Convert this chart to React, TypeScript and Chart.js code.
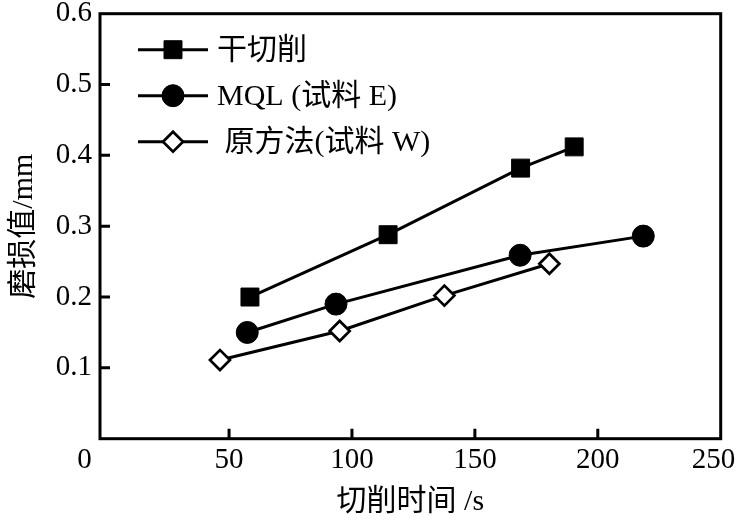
import React, { useEffect, useRef } from 'react';
import { Chart, registerables } from 'chart.js';
import { drawPoint } from 'chart.js/helpers';

Chart.register(...registerables);

// ---- data ----
const seriesLabels = ['干切削', 'MQL (试料 E)', ' 原方法(试料 W)'];
const dryTime = [58.5, 114.7, 168.6, 190.4];
const dryWear = [0.2, 0.288, 0.382, 0.412];
const mqlTime = [57.4, 93.5, 168.4, 218.5];
const mqlWear = [0.15, 0.19, 0.259, 0.286];
const origTime = [46.3, 95.0, 137.6, 180.3];
const origWear = [0.111, 0.152, 0.202, 0.247];
const xTicks = [0, 50, 100, 150, 200, 250];
const yTicks = [0.1, 0.2, 0.3, 0.4, 0.5, 0.6];
const xTitle = '切削时间 /s';
const yTitle = '磨损值/mm';

const FONT = '"Liberation Serif", "Times New Roman", "Noto Sans CJK SC", serif';

const toPts = (xs: number[], ys: number[]) => xs.map((x, i) => ({ x, y: ys[i] }));

const framePlugin = {
  id: 'frame',
  beforeDatasetsDraw(chart: any) {
    const { ctx, chartArea } = chart;
    const xs = chart.scales.x;
    const ys = chart.scales.y;
    ctx.save();
    ctx.strokeStyle = '#000';
    ctx.lineWidth = 3;
    ctx.strokeRect(chartArea.left, chartArea.top, chartArea.right - chartArea.left, chartArea.bottom - chartArea.top);
    ctx.beginPath();
    xs.ticks.forEach((t: any) => {
      if (t.value <= 0 || t.value >= 250) return;
      const px = xs.getPixelForValue(t.value);
      ctx.moveTo(px, chartArea.bottom);
      ctx.lineTo(px, chartArea.bottom - 10);
    });
    ys.ticks.forEach((t: any) => {
      if (t.value <= 0 || t.value >= 0.6 - 1e-9) return;
      const py = ys.getPixelForValue(t.value);
      ctx.moveTo(chartArea.left, py);
      ctx.lineTo(chartArea.left + 10, py);
    });
    ctx.stroke();
    ctx.restore();
  },
};

const legendPlugin = {
  id: 'lineLegend',
  afterDraw(chart: any) {
    const { ctx, chartArea } = chart;
    ctx.save();
    chart.data.datasets.forEach((ds: any, i: number) => {
      const x0 = chartArea.left + 38;
      const x1 = x0 + 70;
      const y = chartArea.top + 36 + i * 46;
      ctx.strokeStyle = '#000';
      ctx.lineWidth = 3;
      ctx.beginPath();
      ctx.moveTo(x0, y);
      ctx.lineTo(x1, y);
      ctx.stroke();
      ctx.fillStyle = ds.pointBackgroundColor;
      ctx.strokeStyle = ds.pointBorderColor;
      ctx.lineWidth = ds.pointBorderWidth;
      drawPoint(ctx, { pointStyle: ds.pointStyle, radius: ds.pointRadius, borderWidth: ds.pointBorderWidth, rotation: 0 } as any, (x0 + x1) / 2, y);
      ctx.fillStyle = '#000';
      ctx.font = `30px ${FONT}`;
      ctx.textBaseline = 'middle';
      ctx.textAlign = 'left';
      ctx.fillText(ds.label, x1 + 9, y + 1);
    });
    ctx.restore();
  },
};

export default function App() {
  const ref = useRef<HTMLCanvasElement>(null);
  useEffect(() => {
    document.body.style.margin = '0';
    const common = {
      showLine: true,
      borderColor: '#000',
      borderWidth: 3,
      pointBorderColor: '#000',
      pointHoverRadius: 0,
    };
    const chart = new Chart(ref.current as HTMLCanvasElement, {
      type: 'scatter',
      data: {
        datasets: [
          { ...common, label: seriesLabels[0], data: toPts(dryTime, dryWear), pointStyle: 'rect', pointRadius: 12.7, pointBackgroundColor: '#000', pointBorderWidth: 1 },
          { ...common, label: seriesLabels[1], data: toPts(mqlTime, mqlWear), pointStyle: 'circle', pointRadius: 11, pointBackgroundColor: '#000', pointBorderWidth: 1 },
          { ...common, label: seriesLabels[2], data: toPts(origTime, origWear), pointStyle: 'rectRot', pointRadius: 10, pointBackgroundColor: '#fff', pointBorderWidth: 2.7 },
        ] as any,
      },
      options: {
        animation: false,
        responsive: false,
        layout: { padding: { left: 0, right: 18.3, top: 11.5, bottom: 0 } },
        plugins: { legend: { display: false }, tooltip: { enabled: false } },
        scales: {
          x: {
            type: 'linear',
            min: -2.5,
            max: 250,
            afterBuildTicks: (s: any) => { s.ticks = xTicks.map((v) => ({ value: v })); },
            afterFit: (s: any) => { s.height = 83.3; s.paddingLeft = 0; s.paddingRight = 0; },
            grid: { display: false, drawTicks: false },
            border: { display: false },
            ticks: {
              color: '#000', padding: 4, font: { family: FONT, size: 29 },
              callback: (v: any) => (v === 0 ? '0      ' : v === 250 ? '250  ' : String(v)),
              maxRotation: 0, autoSkip: false,
            },
            title: { display: true, text: xTitle, color: '#000', font: { family: FONT, size: 30 }, padding: { top: 0, bottom: 2 } },
          },
          y: {
            type: 'linear',
            min: 0,
            max: 0.6,
            afterBuildTicks: (s: any) => { s.ticks = [0, ...yTicks].map((v) => ({ value: v })); },
            afterFit: (s: any) => { s.width = 100; s.paddingTop = 0; s.paddingBottom = 0; },
            grid: { display: false, drawTicks: false },
            border: { display: false },
            ticks: { color: '#000', padding: 8, font: { family: FONT, size: 29 }, callback: (v: any) => (v === 0 ? '' : Number(v).toFixed(1)), autoSkip: false },
            title: { display: true, text: yTitle, color: '#000', font: { family: FONT, size: 30 }, padding: { top: 6, bottom: 0 } },
          },
        },
      } as any,
      plugins: [framePlugin, legendPlugin],
    });
    return () => chart.destroy();
  }, []);
  return (
    <div style={{ position: 'absolute', left: 0, top: 0, width: 739, height: 522, background: '#fff' }}>
      <canvas ref={ref} width={739} height={522} />
    </div>
  );
}
